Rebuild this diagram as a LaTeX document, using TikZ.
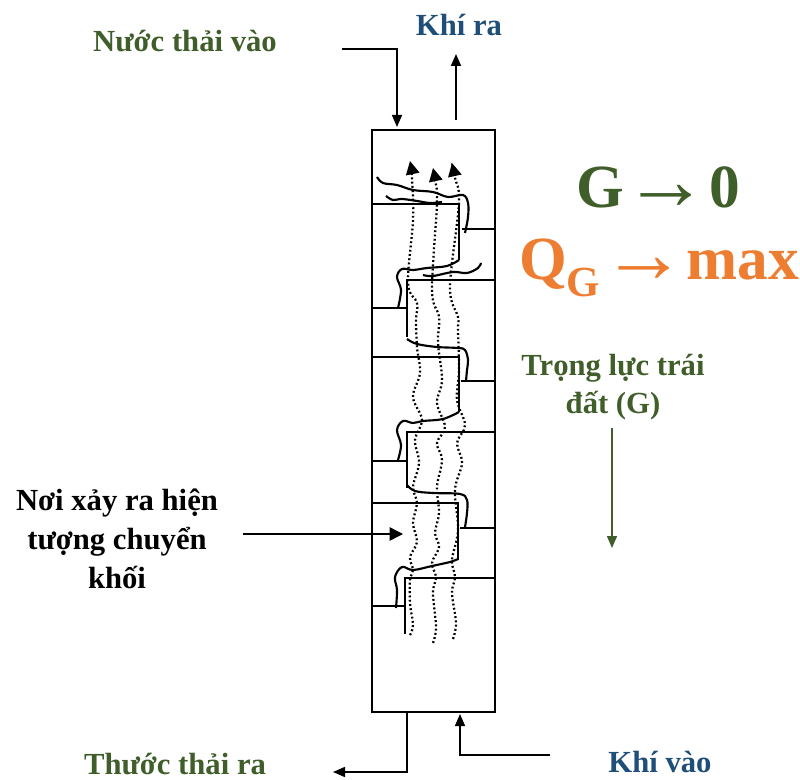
\documentclass[tikz,border=0pt]{standalone}
\usepackage{fontspec}
\setmainfont{Liberation Serif}
\usetikzlibrary{arrows.meta}
\definecolor{dgreen}{HTML}{3F5E2A}
\definecolor{dblue}{HTML}{1F4E79}
\definecolor{dorange}{HTML}{ED7D31}
\newcommand{\bigarrow}{\smash{\raisebox{-2pt}{\fontsize{64}{64}\selectfont →}}}
\tikzset{
  wall/.style={line width=1.9pt,black},
  flowline/.style={line width=1.1pt,black,-{Triangle[length=9pt,width=7.5pt]}},
  liquid/.style={line width=1.6pt,black,smooth,tension=0.6},
  gas/.style={line width=1.7pt,black,dash pattern=on 1.4pt off 1.8pt,smooth,tension=0.6},
  gastip/.style={-{Triangle[length=10pt,width=10pt]}},
  label/.style={font=\bfseries\fontsize{23}{29}\selectfont,align=center,inner sep=0pt},
  big/.style={font=\bfseries\fontsize{46}{50}\selectfont,inner sep=0pt},
}
\begin{document}
\begin{tikzpicture}[x=0.75pt,y=-0.75pt]
\useasboundingbox (0,0) rectangle (800,780);
% column
\node[draw,wall,minimum width=92.25pt,minimum height=436.5pt,inner sep=0pt,outer sep=0pt,anchor=north west] (col) at (372,130) {};
% trays
\draw[wall] (372,204) -- (459,204) -- (459,260);
\draw[wall] (462,229) -- (495,229);
\draw[wall] (495,280) -- (407,280) -- (407,337);
\draw[wall] (372,308) -- (407,308);
\draw[wall] (372,357) -- (459,357) -- (459,412);
\draw[wall] (461,381) -- (495,381);
\draw[wall] (495,432) -- (407,432) -- (407,488);
\draw[wall] (372,461) -- (407,461);
\draw[wall] (372,503) -- (458,503) -- (458,560);
\draw[wall] (460,528) -- (495,528);
\draw[wall] (495,578) -- (405,578) -- (405,634);
\draw[wall] (372,606) -- (405,606);
% liquid
\draw[liquid] plot coordinates {(377,177)(383,183)(397,185)(413,190)(433,192)(448,197)(463,195)(468,203)(468,217)(465,233)};
\draw[liquid] plot coordinates {(386,196)(393,200)(402,199)(417,201)(430,203)(442,202)};
\draw[liquid] plot coordinates {(459,260)(447,266)(427,268)(413,270)(402,269)(397,277)(401,290)(398,308)};
\draw[liquid] plot coordinates {(423,275)(433,276)(453,272)(467,273)(478,268)(481,263)};
\draw[liquid] plot coordinates {(407,339)(417,344)(437,347)(458,348)(465,350)(468,360)(467,370)(466,381)};
\draw[liquid] plot coordinates {(459,412)(443,419)(423,421)(413,423)(403,421)(397,430)(401,445)(398,460)};
\draw[liquid] plot coordinates {(407,485)(415,491)(433,493)(460,494)(467,500)(467,513)(465,527)};
\draw[liquid] plot coordinates {(458,559)(450,562)(432,566)(413,570)(402,567)(395,577)(397,590)(396,608)};
% gas
\draw[gas,gastip] plot coordinates {(410,635)(413,625)(410,603)(410,580)(413,570)(410,557)(417,542)(413,523)(417,503)(413,487)(419,463)(415,440)(422,420)(413,397)(420,373)(417,347)(416,320)(417,303)(408,283)(413,220)(412,178)(410,161)};
\draw[gas,gastip] plot coordinates {(433,643)(436,627)(433,593)(436,577)(432,563)(439,547)(435,533)(439,513)(437,487)(442,460)(437,443)(445,427)(437,403)(442,380)(438,343)(439,317)(432,290)(437,203)(435,180)(433,168)};
\draw[gas,gastip] plot coordinates {(453,639)(456,623)(452,593)(455,577)(452,560)(458,530)(455,490)(462,463)(457,443)(465,425)(457,400)(459,370)(458,330)(458,317)(450,287)(459,203)(455,178)(452,163)};
% labels
\node[label,text=dgreen] (inlab) at (185,41) {Nước thải vào};
\node[label,text=dblue] (gasout) at (459,25) {Khí ra};
\node[label,text=dgreen] (outlab) at (175,764) {Thước thải ra};
\node[label,text=dblue] (gasin) at (660,762) {Khí vào};
\node[label,text=dgreen] (gravity) at (613,387) {Trọng lực trái\\đất (G)};
\node[label,text=black] (zone) at (117,539) {Nơi xảy ra hiện\\tượng chuyển\\khối};
\node[big,text=dgreen] (g0) at (658,187) {G\bigarrow 0};
\node[big,text=dorange] (qg) at (659,268) {Q\textsubscript{G}\bigarrow max};
% connectors
\coordinate (a0) at (342,49);
\coordinate (a1) at (397,49);
\coordinate (a2) at (397,127);
\draw[flowline] (a0) -- (a1) -- (a2);
\coordinate (b0) at (456,120);
\coordinate (b1) at (456,54);
\draw[flowline] (b0) -- (b1);
\coordinate (c0) at (407,712);
\coordinate (c1) at (407,772);
\coordinate (c2) at (333,772);
\draw[flowline] (c0) -- (c1) -- (c2);
\coordinate (d0) at (550,755);
\coordinate (d1) at (460,755);
\coordinate (d2) at (460,714);
\draw[flowline] (d0) -- (d1) -- (d2);
\coordinate (e0) at (243,534);
\coordinate (e1) at (403,534);
\draw[flowline,-{Triangle[length=10pt,width=10pt]}] (e0) -- (e1);
\coordinate (f0) at (612,428);
\coordinate (f1) at (612,548);
\draw[flowline,draw=dgreen,fill=dgreen] (f0) -- (f1);
\end{tikzpicture}
\end{document}
